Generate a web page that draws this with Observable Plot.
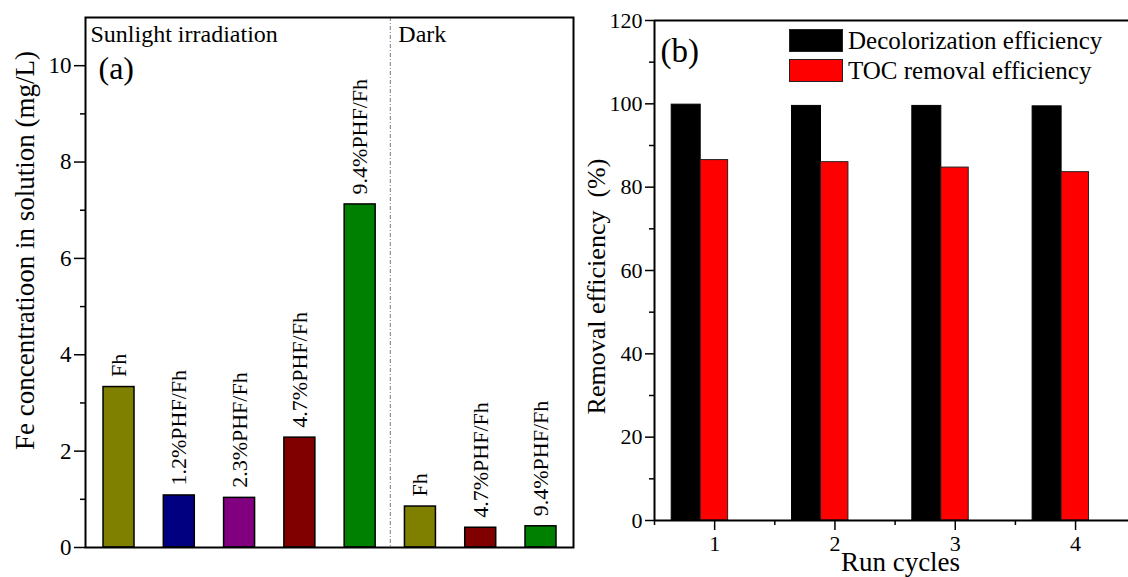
<!DOCTYPE html>
<html><head><meta charset="utf-8">
<script src="https://cdn.jsdelivr.net/npm/d3@7"></script>
<script src="https://cdn.jsdelivr.net/npm/@observablehq/plot@0.6"></script>
<style>
body{margin:0;background:#fff;}
#wrap{position:relative;width:1128px;height:577px;overflow:hidden;background:#fff;font-family:"Liberation Serif","Times New Roman",serif;}
#pa{position:absolute;left:0;top:0;}
#pb{position:absolute;left:580px;top:0;}
#legend{position:absolute;left:789px;top:29px;}
.row{display:flex;align-items:flex-start;height:30px;}
.sw{width:52px;height:21px;border:1px solid #222;}
.lt{margin-left:5px;font-size:25px;line-height:23px;color:#000;white-space:nowrap;}
</style></head><body>
<div id="wrap"><div id="pa"></div><div id="pb"></div><div id="legend"></div></div>
<script>
// ---------- Panel (a) data ----------
const samplesA = ["Fh","1.2%PHF/Fh","2.3%PHF/Fh","4.7%PHF/Fh","9.4%PHF/Fh","Fh","4.7%PHF/Fh","9.4%PHF/Fh"];
const conditionsA = ["Sunlight","Sunlight","Sunlight","Sunlight","Sunlight","Dark","Dark","Dark"];
const feConc = [3.33, 1.08, 1.03, 2.28, 7.12, 0.85, 0.41, 0.44];
const sampleKinds = ["Fh","1.2%PHF/Fh","2.3%PHF/Fh","4.7%PHF/Fh","9.4%PHF/Fh"];
const sampleColors = ["#808000","#000080","#800080","#800000","#008000"];
const yTicksA = [0,2,4,6,8,10];
const yMinorA = [1,3,5,7,9];
const regionLabels = ["Sunlight irradiation","Dark"];

// ---------- Panel (b) data ----------
const cycles = [1,2,3,4];
const decolorization = [99.8, 99.5, 99.5, 99.4];
const tocRemoval = [86.5, 86.0, 84.7, 83.6];
const seriesB = ["Decolorization efficiency","TOC removal efficiency"];
const seriesColors = ["#000000","#ff0000"];
const yTicksB = [0,20,40,60,80,100,120];
const yMinorB = [10,30,50,70,90,110];
const xMinorB = [0.5,1.5,2.5,3.5];

const font = "'Liberation Serif', 'Times New Roman', serif";

// ---------- Panel (a) ----------
const dataA = samplesA.map((s,i)=>({idx:i+1, sample:s, cond:conditionsA[i], value:feConc[i]}));
const half = 0.257;
const lastSun = d3.max(dataA.filter(d=>d.cond==="Sunlight"), d=>d.idx);
const firstDark = d3.min(dataA.filter(d=>d.cond==="Dark"), d=>d.idx);
const sep = (lastSun + firstDark)/2;

const plotA = Plot.plot({
  width: 580, height: 577,
  marginLeft: 85, marginTop: 17, marginRight: 7, marginBottom: 30,
  x: {domain: [0.444, 8.539], axis: null},
  y: {domain: [0, 11], axis: null},
  color: {domain: sampleKinds, range: sampleColors},
  style: {fontFamily: font, background: "white", color: "black", overflow: "visible"},
  marks: [
    Plot.ruleX([sep], {stroke: "#7a7a7a", strokeWidth: 1, strokeDasharray: "4,2,1,2"}),
    Plot.rectY(dataA, {x1: d=>d.idx-half, x2: d=>d.idx+half, y: "value", fill: "sample", stroke: "black", strokeWidth: 1.5}),
    Plot.text(dataA, {x: "idx", y: "value", text: "sample", rotate: -90, textAnchor: "start", dy: -10, fontSize: 22, fill: "black"}),
    Plot.axisY({ticks: yTicksA, tickSize: 11, tickPadding: 3, fontSize: 23, label: null, strokeWidth: 1.5, tickFormat: d => String(d)}),
    Plot.axisY({ticks: yMinorA, tickSize: 5, text: null, label: null, strokeWidth: 1.5}),
    Plot.frame({stroke: "black", strokeWidth: 2}),
    Plot.text([regionLabels[0]], {frameAnchor: "top-left", textAnchor: "start", lineAnchor: "bottom", dx: 5, dy: 24, fontSize: 24}),
    Plot.text([{x: sep, t: regionLabels[1]}], {x: "x", text: "t", frameAnchor: "top", textAnchor: "start", lineAnchor: "bottom", dx: 8, dy: 24, fontSize: 24}),
    Plot.text(["(a)"], {frameAnchor: "top-left", textAnchor: "start", lineAnchor: "bottom", dx: 13, dy: 61, fontSize: 32}),
    Plot.text(["Fe concentratioon in solution (mg/L)"], {frameAnchor: "left", textAnchor: "middle", rotate: -90, dx: -60, dy: -32, fontSize: 27})
  ]
});
document.getElementById("pa").appendChild(plotA);

// ---------- Panel (b) ----------
const dataB = cycles.map((c,i)=>({cycle:c, dec:decolorization[i], toc:tocRemoval[i]}));
const plotB = Plot.plot({
  width: 548, height: 577,
  marginLeft: 74, marginTop: 20, marginRight: 0, marginBottom: 57,
  x: {domain: [0.5, 4.44], axis: null},
  y: {domain: [0, 120], axis: null},
  style: {fontFamily: font, background: "white", color: "black", overflow: "visible"},
  marks: [
    Plot.rectY(dataB, {x1: d=>d.cycle-0.357, x2: d=>d.cycle-0.116, y: "dec", fill: seriesColors[0], stroke: "black", strokeWidth: 1}),
    Plot.rectY(dataB, {x1: d=>d.cycle-0.116, x2: d=>d.cycle+0.112, y: "toc", fill: seriesColors[1], stroke: "#222", strokeWidth: 1}),
    Plot.axisY({ticks: yTicksB, tickSize: 9, tickPadding: 3, fontSize: 22, label: null, strokeWidth: 1.5, tickFormat: d => String(d)}),
    Plot.axisY({ticks: yMinorB, tickSize: 5, text: null, label: null, strokeWidth: 1.5}),
    Plot.axisX({ticks: cycles, tickSize: 10, tickPadding: 5, fontSize: 22, label: null, strokeWidth: 1.5, tickFormat: d => String(d)}),
    Plot.axisX({ticks: xMinorB, tickSize: 5, text: null, label: null, strokeWidth: 1.5}),
    Plot.ruleX([0.5], {stroke: "black", strokeWidth: 2}),
    Plot.ruleY([0], {stroke: "black", strokeWidth: 2}),
    Plot.ruleY([d3.max(yTicksB)], {stroke: "black", strokeWidth: 2}),
    Plot.text(["(b)"], {frameAnchor: "top-left", textAnchor: "start", lineAnchor: "bottom", dx: 6, dy: 41, fontSize: 33}),
    Plot.text(["Removal efficiency \u00a0(%)"], {frameAnchor: "left", textAnchor: "middle", rotate: -90, dx: -58, dy: 16, fontSize: 26}),
    Plot.text(["Run cycles"], {frameAnchor: "bottom", lineAnchor: "bottom", textAnchor: "middle", dx: 9, dy: 50, fontSize: 27})
  ]
});
document.getElementById("pb").appendChild(plotB);

// ---------- Legend (b) ----------
const leg = d3.select("#legend");
seriesB.forEach((s,i)=>{
  const r = leg.append("div").attr("class","row");
  r.append("div").attr("class","sw").style("background", seriesColors[i]);
  r.append("div").attr("class","lt").text(s);
});
</script>
</body></html>
